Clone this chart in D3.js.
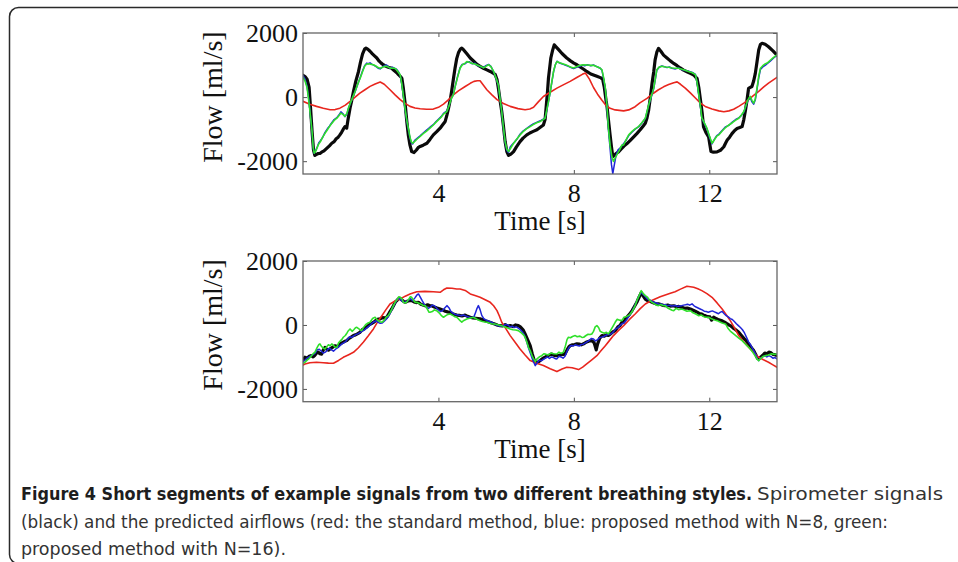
<!DOCTYPE html>
<html>
<head>
<meta charset="utf-8">
<script src="https://cdn.jsdelivr.net/npm/d3@7"></script>
<style>
  html, body { margin: 0; padding: 0; background: #fff; }
  svg { display: block; }
  .tick text { font-family: "Liberation Serif", "Times New Roman", serif; font-size: 26px; fill: #111; }
  .axis-title { font-family: "Liberation Serif", "Times New Roman", serif; font-size: 27px; fill: #111; }
  .caption { font-family: "Liberation Sans Narrow", "DejaVu Sans Condensed", "Liberation Sans", sans-serif; font-size: 17px; }
</style>
</head>
<body>
<svg id="chart" width="958" height="562"></svg>
<script>
'use strict';

// x ticks / y ticks shared by both panels
var timeTicks = [4, 8, 12];
var flowTicks = [-2000, 0, 2000];

// ---- panel 1 (top): [time s, flow ml/s]
var topSpirometer = [[0,680],[0.06,640],[0.12,560],[0.18,300],[0.22,-300],[0.27,-1100],[0.31,-1650],[0.35,-1820],[0.40,-1790],[0.45,-1760],[0.50,-1760],[0.55,-1720],[0.62,-1680],[0.70,-1600],[0.78,-1520],[0.85,-1440],[0.92,-1390],[0.98,-1300],[1.04,-1250],[1.09,-1180],[1.14,-1100],[1.19,-1000],[1.24,-920],[1.29,-970],[1.33,-700],[1.39,-340],[1.44,-100],[1.49,170],[1.56,500],[1.64,800],[1.70,1100],[1.76,1350],[1.82,1500],[1.86,1530],[1.92,1490],[1.98,1430],[2.05,1350],[2.12,1280],[2.18,1220],[2.25,1120],[2.31,1060],[2.37,1010],[2.45,960],[2.52,930],[2.62,900],[2.70,820],[2.77,760],[2.82,700],[2.88,640],[2.92,590],[2.96,300],[3.02,-240],[3.07,-800],[3.11,-1180],[3.16,-1500],[3.21,-1700],[3.28,-1730],[3.35,-1650],[3.40,-1580],[3.46,-1540],[3.55,-1500],[3.66,-1440],[3.75,-1320],[3.85,-1180],[3.95,-1080],[4.05,-970],[4.12,-870],[4.20,-760],[4.25,-560],[4.30,-340],[4.35,-80],[4.39,180],[4.44,550],[4.49,900],[4.54,1200],[4.59,1380],[4.65,1500],[4.69,1530],[4.74,1480],[4.84,1350],[4.94,1220],[5.05,1110],[5.13,1030],[5.23,960],[5.33,900],[5.43,850],[5.53,800],[5.60,760],[5.68,700],[5.73,550],[5.77,280],[5.82,-100],[5.87,-450],[5.92,-900],[5.97,-1390],[6.02,-1700],[6.07,-1820],[6.14,-1780],[6.22,-1700],[6.30,-1560],[6.41,-1390],[6.50,-1280],[6.61,-1180],[6.70,-1120],[6.80,-1070],[6.91,-1020],[7.00,-950],[7.10,-870],[7.15,-700],[7.18,-340],[7.22,150],[7.25,590],[7.29,950],[7.32,1220],[7.37,1450],[7.42,1630],[7.48,1560],[7.55,1480],[7.65,1360],[7.79,1220],[7.90,1130],[8.00,1060],[8.09,1010],[8.20,930],[8.30,860],[8.38,800],[8.50,720],[8.60,680],[8.68,650],[8.80,600],[8.85,560],[8.90,300],[8.95,-100],[8.98,-300],[9.02,-700],[9.07,-1180],[9.11,-1550],[9.15,-1860],[9.19,-1820],[9.25,-1760],[9.32,-1710],[9.40,-1620],[9.48,-1530],[9.57,-1450],[9.66,-1360],[9.76,-1250],[9.86,-1140],[9.96,-1020],[10.05,-900],[10.11,-820],[10.16,-650],[10.21,-400],[10.26,0],[10.31,430],[10.36,800],[10.40,1160],[10.45,1400],[10.50,1520],[10.57,1430],[10.65,1310],[10.75,1220],[10.85,1130],[10.95,1050],[11.05,980],[11.14,910],[11.24,840],[11.34,790],[11.44,740],[11.54,690],[11.60,620],[11.64,580],[11.69,300],[11.74,-100],[11.79,-500],[11.83,-930],[11.90,-1100],[11.98,-1240],[12.02,-1500],[12.05,-1700],[12.12,-1720],[12.23,-1710],[12.33,-1660],[12.43,-1550],[12.48,-1440],[12.53,-1340],[12.60,-1250],[12.67,-1140],[12.75,-1040],[12.82,-980],[12.90,-950],[12.97,-920],[13.02,-700],[13.07,-400],[13.12,-50],[13.16,270],[13.21,300],[13.26,330],[13.31,500],[13.36,740],[13.41,1100],[13.46,1470],[13.51,1640],[13.56,1680],[13.65,1650],[13.75,1570],[13.88,1440],[14.0,1310]];

var topStandard = [[0,-130],[0.2,-220],[0.4,-290],[0.6,-350],[0.8,-395],[0.95,-390],[1.09,-345],[1.25,-250],[1.39,-135],[1.54,0],[1.68,125],[1.83,230],[1.98,335],[2.13,410],[2.28,470],[2.40,400],[2.50,300],[2.57,230],[2.72,70],[2.87,-80],[3.02,-200],[3.16,-290],[3.31,-340],[3.46,-365],[3.65,-380],[3.85,-375],[4.0,-320],[4.15,-220],[4.30,-80],[4.44,70],[4.60,200],[4.79,330],[4.94,430],[5.05,490],[5.15,510],[5.23,510],[5.33,370],[5.43,230],[5.58,70],[5.73,-80],[5.92,-200],[6.12,-290],[6.35,-360],[6.56,-395],[6.70,-370],[6.81,-320],[6.95,-150],[7.10,20],[7.30,150],[7.50,280],[7.70,390],[7.89,490],[8.10,620],[8.25,710],[8.34,750],[8.46,560],[8.58,300],[8.70,90],[8.83,-100],[8.95,-260],[9.07,-350],[9.22,-400],[9.47,-430],[9.62,-400],[9.81,-300],[9.95,-180],[10.16,-40],[10.35,120],[10.50,229],[10.65,320],[10.80,390],[10.95,450],[11.05,475],[11.15,400],[11.29,280],[11.44,130],[11.59,-30],[11.74,-190],[11.88,-290],[12.08,-370],[12.28,-430],[12.43,-455],[12.58,-430],[12.72,-380],[12.87,-290],[13.02,-190],[13.16,-80],[13.31,50],[13.46,180],[13.61,320],[13.75,438],[13.88,530],[14.0,615]];

var topN8 = [[0,680],[0.06,560],[0.12,330],[0.18,-150],[0.23,-700],[0.27,-1150],[0.30,-1580],[0.33,-1760],[0.38,-1650],[0.42,-1560],[0.47,-1420],[0.52,-1350],[0.58,-1260],[0.65,-1100],[0.72,-990],[0.78,-910],[0.85,-800],[0.92,-700],[1.0,-640],[1.06,-560],[1.12,-460],[1.18,-520],[1.24,-610],[1.30,-520],[1.34,-360],[1.40,-190],[1.47,-10],[1.54,170],[1.62,410],[1.70,640],[1.76,820],[1.82,980],[1.88,1060],[1.93,1040],[1.98,1070],[2.04,1020],[2.10,990],[2.16,950],[2.22,900],[2.28,880],[2.35,940],[2.42,990],[2.47,1000],[2.52,940],[2.58,900],[2.64,930],[2.70,900],[2.76,870],[2.82,790],[2.87,690],[2.92,380],[2.96,60],[3.02,-420],[3.07,-780],[3.11,-1000],[3.16,-1280],[3.20,-1420],[3.24,-1460],[3.30,-1350],[3.38,-1280],[3.46,-1210],[3.55,-1120],[3.65,-1030],[3.75,-940],[3.85,-860],[3.93,-760],[4.0,-690],[4.08,-610],[4.15,-510],[4.25,-430],[4.32,-240],[4.38,-40],[4.44,80],[4.50,360],[4.56,620],[4.64,920],[4.70,1020],[4.79,1040],[4.84,1090],[4.92,1100],[5.00,1040],[5.08,1060],[5.13,1000],[5.20,970],[5.27,940],[5.33,920],[5.40,980],[5.48,1020],[5.55,960],[5.63,790],[5.70,590],[5.77,360],[5.82,-60],[5.87,-470],[5.92,-980],[5.97,-1420],[6.02,-1660],[6.07,-1730],[6.12,-1560],[6.18,-1480],[6.25,-1400],[6.32,-1310],[6.41,-1160],[6.50,-1060],[6.60,-980],[6.71,-900],[6.80,-840],[6.90,-790],[7.01,-740],[7.08,-700],[7.15,-650],[7.20,-420],[7.25,-150],[7.30,140],[7.35,470],[7.40,790],[7.45,1000],[7.50,1120],[7.55,1080],[7.62,1050],[7.69,1020],[7.76,990],[7.84,960],[7.92,920],[7.99,890],[8.08,930],[8.18,960],[8.25,1000],[8.32,980],[8.40,1010],[8.50,980],[8.58,1000],[8.66,960],[8.72,930],[8.78,900],[8.83,840],[8.88,560],[8.93,240],[8.98,-350],[9.02,-1000],[9.07,-1600],[9.11,-2100],[9.15,-2390],[9.19,-2150],[9.24,-1850],[9.30,-1650],[9.37,-1580],[9.42,-1520],[9.48,-1440],[9.55,-1330],[9.62,-1200],[9.72,-1090],[9.81,-1000],[9.91,-930],[10.01,-810],[10.11,-670],[10.16,-460],[10.21,-250],[10.28,-20],[10.36,270],[10.41,580],[10.45,840],[10.52,930],[10.60,970],[10.68,950],[10.75,920],[10.82,940],[10.90,900],[11.00,880],[11.09,910],[11.19,860],[11.29,830],[11.39,810],[11.50,770],[11.59,710],[11.64,440],[11.69,50],[11.74,-320],[11.78,-660],[11.85,-810],[11.93,-990],[12.00,-1230],[12.08,-1460],[12.15,-1320],[12.22,-1200],[12.28,-1160],[12.38,-1040],[12.48,-930],[12.58,-880],[12.68,-780],[12.78,-700],[12.87,-650],[12.95,-570],[13.02,-470],[13.07,-320],[13.12,-160],[13.17,-60],[13.21,-10],[13.26,-150],[13.31,-220],[13.36,-80],[13.41,240],[13.46,600],[13.51,860],[13.58,940],[13.66,1000],[13.71,1040],[13.80,1120],[13.90,1220],[14.0,1300]];

var topN16 = [[0,620],[0.06,500],[0.12,300],[0.18,-200],[0.23,-700],[0.27,-1100],[0.30,-1550],[0.33,-1750],[0.38,-1680],[0.45,-1490],[0.52,-1380],[0.58,-1250],[0.65,-1130],[0.72,-1020],[0.78,-920],[0.85,-820],[0.92,-730],[1.0,-660],[1.06,-580],[1.12,-500],[1.18,-540],[1.24,-600],[1.30,-500],[1.34,-350],[1.40,-180],[1.47,0],[1.54,180],[1.62,420],[1.70,620],[1.76,800],[1.82,960],[1.88,1030],[1.95,1040],[2.02,1020],[2.08,1010],[2.15,970],[2.22,920],[2.28,900],[2.35,930],[2.42,960],[2.47,960],[2.55,920],[2.62,900],[2.68,910],[2.74,880],[2.80,800],[2.87,700],[2.92,400],[2.96,80],[3.02,-400],[3.07,-750],[3.11,-970],[3.16,-1250],[3.20,-1400],[3.24,-1440],[3.30,-1380],[3.38,-1300],[3.46,-1230],[3.55,-1140],[3.65,-1060],[3.75,-970],[3.85,-870],[3.93,-780],[4.0,-710],[4.08,-630],[4.15,-530],[4.25,-450],[4.32,-250],[4.38,-50],[4.44,70],[4.50,350],[4.56,600],[4.64,900],[4.70,1000],[4.79,1060],[4.84,1110],[4.92,1080],[5.00,1050],[5.08,1030],[5.13,1010],[5.20,980],[5.27,950],[5.33,910],[5.40,960],[5.48,1010],[5.55,950],[5.63,800],[5.70,600],[5.77,380],[5.82,-50],[5.87,-450],[5.92,-950],[5.97,-1390],[6.02,-1620],[6.07,-1700],[6.14,-1580],[6.22,-1440],[6.30,-1330],[6.41,-1180],[6.50,-1080],[6.60,-990],[6.71,-920],[6.80,-860],[6.90,-800],[7.01,-760],[7.08,-710],[7.15,-660],[7.20,-400],[7.25,-140],[7.30,150],[7.35,480],[7.40,800],[7.45,1000],[7.50,1110],[7.58,1070],[7.69,1030],[7.80,990],[7.90,940],[7.99,910],[8.08,950],[8.18,990],[8.29,1010],[8.40,1000],[8.50,990],[8.58,990],[8.70,940],[8.78,900],[8.83,850],[8.88,600],[8.93,280],[8.98,-300],[9.02,-970],[9.07,-1500],[9.12,-1850],[9.17,-2010],[9.22,-1900],[9.27,-1800],[9.35,-1650],[9.42,-1500],[9.47,-1490],[9.55,-1320],[9.62,-1180],[9.72,-1070],[9.81,-990],[9.91,-920],[10.01,-800],[10.11,-660],[10.16,-450],[10.21,-240],[10.28,0],[10.36,280],[10.41,600],[10.45,850],[10.52,940],[10.60,960],[10.70,940],[10.80,930],[10.90,910],[11.00,900],[11.09,900],[11.19,870],[11.29,840],[11.39,800],[11.50,760],[11.59,700],[11.64,450],[11.69,70],[11.74,-300],[11.78,-650],[11.85,-800],[11.93,-970],[12.00,-1200],[12.08,-1440],[12.15,-1330],[12.22,-1220],[12.28,-1180],[12.38,-1060],[12.48,-950],[12.58,-870],[12.68,-800],[12.78,-720],[12.87,-660],[12.95,-560],[13.02,-450],[13.07,-300],[13.12,-140],[13.17,-30],[13.21,20],[13.26,-100],[13.31,-190],[13.36,-50],[13.41,280],[13.46,650],[13.51,900],[13.58,980],[13.66,1040],[13.71,1060],[13.80,1150],[13.90,1240],[14.0,1320]];

// ---- panel 2 (bottom)
var botSpirometer = [[0,-1100],[0.06,-1010],[0.12,-1050],[0.18,-980],[0.25,-960],[0.30,-1000],[0.35,-950],[0.40,-880],[0.45,-850],[0.50,-900],[0.55,-910],[0.60,-780],[0.65,-700],[0.70,-760],[0.75,-790],[0.80,-750],[0.87,-700],[0.95,-650],[1.02,-680],[1.09,-600],[1.15,-560],[1.22,-520],[1.29,-490],[1.36,-420],[1.42,-380],[1.49,-330],[1.55,-310],[1.62,-270],[1.68,-230],[1.75,-150],[1.82,-110],[1.88,-70],[1.95,0],[2.02,40],[2.08,80],[2.15,140],[2.22,180],[2.28,190],[2.35,230],[2.42,220],[2.47,240],[2.52,320],[2.57,420],[2.62,500],[2.68,620],[2.73,720],[2.77,760],[2.82,820],[2.87,830],[2.92,780],[2.97,740],[3.02,710],[3.08,740],[3.14,760],[3.21,760],[3.28,720],[3.34,700],[3.41,710],[3.48,650],[3.55,620],[3.61,600],[3.68,630],[3.75,600],[3.80,600],[3.88,560],[3.96,530],[4.05,500],[4.12,470],[4.20,430],[4.27,410],[4.35,390],[4.42,350],[4.48,330],[4.54,310],[4.62,300],[4.70,280],[4.79,310],[4.86,270],[4.94,240],[5.02,220],[5.10,210],[5.17,200],[5.23,190],[5.31,160],[5.38,130],[5.45,110],[5.53,80],[5.60,50],[5.68,20],[5.75,-10],[5.82,-20],[5.90,-30],[5.97,10],[6.05,-40],[6.12,-20],[6.20,-50],[6.28,0],[6.36,-20],[6.42,-60],[6.50,-150],[6.56,-280],[6.63,-450],[6.71,-650],[6.77,-900],[6.83,-1110],[6.90,-1180],[6.96,-1150],[7.03,-1090],[7.10,-1030],[7.15,-1010],[7.22,-960],[7.28,-940],[7.35,-910],[7.42,-950],[7.48,-960],[7.55,-960],[7.62,-930],[7.68,-920],[7.74,-910],[7.80,-780],[7.85,-690],[7.89,-650],[7.96,-620],[8.02,-610],[8.09,-590],[8.16,-600],[8.22,-620],[8.29,-590],[8.36,-540],[8.42,-520],[8.48,-490],[8.54,-500],[8.60,-560],[8.66,-780],[8.70,-600],[8.76,-420],[8.83,-330],[8.90,-350],[8.96,-310],[9.02,-330],[9.08,-280],[9.15,-220],[9.22,-180],[9.30,-60],[9.36,-20],[9.42,80],[9.47,90],[9.52,180],[9.58,260],[9.64,330],[9.72,450],[9.78,560],[9.86,710],[9.92,850],[9.99,1010],[10.05,900],[10.11,810],[10.18,760],[10.25,740],[10.31,710],[10.38,680],[10.44,660],[10.50,660],[10.57,640],[10.64,610],[10.70,600],[10.77,620],[10.85,590],[10.95,600],[11.03,570],[11.10,580],[11.19,550],[11.27,520],[11.35,530],[11.44,500],[11.52,460],[11.60,420],[11.64,400],[11.70,360],[11.78,340],[11.84,300],[11.88,290],[11.95,260],[12.02,250],[12.07,150],[12.13,240],[12.20,200],[12.28,160],[12.38,130],[12.45,90],[12.52,40],[12.58,0],[12.62,-20],[12.70,-90],[12.78,-150],[12.87,-230],[12.95,-330],[13.02,-420],[13.08,-480],[13.12,-540],[13.18,-620],[13.25,-720],[13.31,-800],[13.37,-920],[13.42,-1040],[13.46,-1060],[13.52,-1000],[13.58,-950],[13.64,-880],[13.70,-900],[13.76,-850],[13.81,-860],[13.88,-920],[13.94,-930],[14.0,-960]];

var botStandard = [[0,-1250],[0.06,-1220],[0.2,-1180],[0.40,-1167],[0.60,-1180],[0.75,-1195],[0.90,-1198],[1.05,-1110],[1.19,-1012],[1.35,-930],[1.49,-855],[1.63,-720],[1.78,-542],[1.93,-340],[2.08,-125],[2.20,90],[2.33,290],[2.45,480],[2.57,656],[2.72,750],[2.87,812],[3.02,900],[3.16,969],[3.36,1040],[3.60,1050],[3.85,1040],[4.05,1021],[4.15,1100],[4.25,1156],[4.40,1150],[4.54,1125],[4.64,1125],[4.79,1080],[4.94,969],[5.08,920],[5.23,865],[5.38,790],[5.53,708],[5.63,600],[5.73,448],[5.80,280],[5.87,83],[6.0,-130],[6.12,-333],[6.27,-550],[6.41,-750],[6.56,-940],[6.71,-1115],[6.90,-1200],[7.10,-1271],[7.30,-1370],[7.50,-1458],[7.65,-1380],[7.79,-1323],[7.95,-1340],[8.14,-1396],[8.26,-1320],[8.38,-1219],[8.53,-1090],[8.68,-960],[8.80,-810],[8.93,-647],[9.05,-490],[9.17,-333],[9.32,-170],[9.47,-21],[9.65,180],[9.81,344],[9.96,510],[10.11,656],[10.25,740],[10.40,812],[10.55,880],[10.70,938],[10.85,990],[10.99,1040],[11.15,1120],[11.34,1208],[11.54,1177],[11.66,1130],[11.78,1073],[11.93,980],[12.08,865],[12.23,690],[12.38,500],[12.50,320],[12.62,135],[12.75,-100],[12.87,-333],[13.01,-520],[13.16,-698],[13.31,-860],[13.46,-1012],[13.60,-1090],[13.75,-1167],[13.88,-1250],[14.0,-1323]];

var botN8 = [[0,-1150],[0.06,-1100],[0.12,-1040],[0.18,-1000],[0.24,-960],[0.30,-930],[0.36,-880],[0.42,-780],[0.48,-760],[0.55,-830],[0.60,-880],[0.66,-850],[0.72,-780],[0.78,-720],[0.84,-780],[0.90,-820],[0.96,-760],[1.02,-710],[1.08,-660],[1.14,-600],[1.20,-560],[1.26,-520],[1.32,-440],[1.38,-370],[1.44,-390],[1.50,-340],[1.56,-300],[1.62,-280],[1.68,-240],[1.74,-200],[1.80,-170],[1.86,-110],[1.92,-60],[1.98,-10],[2.04,60],[2.10,100],[2.16,130],[2.22,80],[2.28,50],[2.34,60],[2.40,120],[2.46,180],[2.52,260],[2.58,380],[2.64,520],[2.70,640],[2.76,760],[2.82,840],[2.88,790],[2.94,740],[3.00,700],[3.06,740],[3.12,780],[3.18,820],[3.24,760],[3.30,840],[3.36,930],[3.41,969],[3.46,880],[3.52,760],[3.58,650],[3.64,560],[3.70,520],[3.76,560],[3.82,620],[3.88,600],[3.94,540],[4.00,470],[4.06,420],[4.12,450],[4.18,520],[4.25,604],[4.31,540],[4.37,420],[4.43,370],[4.50,330],[4.56,320],[4.62,300],[4.68,290],[4.74,310],[4.80,280],[4.86,260],[4.92,240],[4.98,230],[5.05,260],[5.10,400],[5.14,520],[5.18,604],[5.23,480],[5.28,300],[5.34,200],[5.40,160],[5.46,130],[5.52,110],[5.58,80],[5.64,40],[5.70,0],[5.76,-20],[5.82,-40],[5.88,-30],[5.94,-10],[6.00,20],[6.06,-10],[6.12,-60],[6.18,-40],[6.24,-80],[6.30,-60],[6.36,-100],[6.42,-150],[6.48,-220],[6.54,-320],[6.60,-500],[6.66,-720],[6.72,-900],[6.78,-1080],[6.86,-1271],[6.92,-1180],[6.98,-1100],[7.04,-1120],[7.10,-1080],[7.16,-1040],[7.22,-1000],[7.28,-1050],[7.34,-1000],[7.40,-1020],[7.46,-1060],[7.50,-1062],[7.56,-980],[7.62,-1000],[7.68,-1040],[7.74,-980],[7.80,-820],[7.86,-700],[7.92,-640],[7.98,-660],[8.04,-620],[8.10,-640],[8.16,-660],[8.22,-610],[8.28,-600],[8.34,-560],[8.40,-520],[8.46,-480],[8.52,-420],[8.58,-440],[8.64,-500],[8.70,-460],[8.76,-400],[8.82,-380],[8.88,-360],[8.94,-330],[9.00,-300],[9.06,-300],[9.12,-260],[9.18,-200],[9.24,-120],[9.30,-80],[9.36,-20],[9.42,40],[9.48,60],[9.54,140],[9.60,230],[9.66,320],[9.72,430],[9.78,560],[9.84,700],[9.90,860],[9.95,950],[9.99,1021],[10.04,960],[10.10,900],[10.16,820],[10.22,780],[10.28,760],[10.34,720],[10.40,700],[10.46,680],[10.52,640],[10.58,660],[10.64,620],[10.70,640],[10.76,600],[10.82,620],[10.88,590],[10.94,600],[11.00,610],[11.06,580],[11.12,590],[11.18,600],[11.24,620],[11.30,630],[11.36,650],[11.42,620],[11.49,660],[11.55,600],[11.61,560],[11.67,530],[11.73,500],[11.79,470],[11.85,430],[11.91,420],[11.97,400],[12.03,420],[12.09,440],[12.15,410],[12.21,380],[12.27,350],[12.33,400],[12.38,420],[12.44,350],[12.50,290],[12.56,250],[12.62,200],[12.68,170],[12.74,110],[12.80,40],[12.86,-20],[12.92,-80],[12.98,-150],[13.04,-250],[13.10,-390],[13.16,-530],[13.22,-620],[13.26,-698],[13.32,-820],[13.38,-950],[13.42,-1060],[13.46,-1115],[13.52,-1040],[13.58,-1000],[13.64,-960],[13.70,-1000],[13.76,-960],[13.82,-990],[13.88,-1040],[13.94,-1020],[14.0,-1062]];

var botN16 = [[0,-1200],[0.06,-1167],[0.12,-1100],[0.18,-1050],[0.24,-980],[0.30,-900],[0.35,-855],[0.42,-700],[0.47,-610],[0.50,-594],[0.55,-680],[0.60,-720],[0.65,-750],[0.70,-680],[0.75,-620],[0.80,-650],[0.85,-594],[0.90,-640],[0.95,-700],[1.0,-698],[1.05,-560],[1.10,-500],[1.15,-450],[1.19,-385],[1.25,-330],[1.30,-250],[1.34,-180],[1.39,-125],[1.45,-200],[1.50,-150],[1.55,-90],[1.59,-73],[1.65,-120],[1.70,-160],[1.73,-177],[1.80,-60],[1.86,20],[1.92,60],[1.98,83],[2.04,180],[2.08,220],[2.13,240],[2.20,150],[2.27,100],[2.33,83],[2.40,150],[2.46,250],[2.52,290],[2.58,400],[2.65,560],[2.72,708],[2.78,800],[2.83,880],[2.87,865],[2.92,820],[2.97,700],[3.02,690],[3.06,708],[3.12,800],[3.17,880],[3.21,865],[3.27,760],[3.32,700],[3.36,708],[3.42,680],[3.50,640],[3.56,600],[3.61,604],[3.67,500],[3.72,400],[3.75,396],[3.82,420],[3.88,470],[3.95,448],[4.02,380],[4.08,300],[4.15,240],[4.22,290],[4.28,330],[4.35,344],[4.42,300],[4.48,260],[4.54,240],[4.60,180],[4.64,135],[4.69,90],[4.75,140],[4.84,188],[4.92,210],[5.03,240],[5.10,200],[5.17,160],[5.23,135],[5.30,110],[5.37,90],[5.43,83],[5.50,60],[5.57,40],[5.63,31],[5.70,20],[5.78,0],[5.87,-21],[5.95,-60],[6.03,-90],[6.12,-125],[6.20,-150],[6.28,-160],[6.36,-177],[6.45,-250],[6.52,-320],[6.56,-385],[6.62,-560],[6.66,-700],[6.71,-802],[6.78,-1000],[6.86,-1146],[6.92,-1050],[6.99,-990],[7.05,-960],[7.12,-900],[7.18,-920],[7.25,-938],[7.32,-880],[7.40,-900],[7.50,-908],[7.56,-850],[7.62,-890],[7.69,-855],[7.74,-700],[7.80,-450],[7.84,-385],[7.90,-400],[7.96,-360],[8.04,-333],[8.10,-370],[8.18,-350],[8.24,-390],[8.29,-385],[8.36,-330],[8.42,-290],[8.48,-300],[8.53,-281],[8.58,-200],[8.63,-60],[8.68,-21],[8.73,-80],[8.78,-200],[8.83,-229],[8.90,-260],[8.96,-230],[9.02,-281],[9.08,-180],[9.15,-50],[9.22,83],[9.28,180],[9.35,150],[9.42,135],[9.48,240],[9.55,260],[9.62,300],[9.67,344],[9.72,420],[9.77,520],[9.81,604],[9.86,760],[9.92,900],[9.96,1000],[9.99,1073],[10.05,980],[10.11,917],[10.18,860],[10.25,760],[10.31,708],[10.38,660],[10.44,620],[10.50,604],[10.57,640],[10.64,600],[10.70,604],[10.76,540],[10.83,500],[10.90,460],[10.95,448],[11.02,520],[11.09,480],[11.19,500],[11.26,470],[11.34,430],[11.44,448],[11.52,380],[11.60,340],[11.69,290],[11.76,310],[11.84,260],[11.90,240],[11.98,240],[12.05,200],[12.12,170],[12.18,150],[12.23,135],[12.30,100],[12.38,60],[12.48,31],[12.55,-100],[12.62,-190],[12.72,-281],[12.80,-350],[12.88,-420],[12.97,-490],[13.05,-580],[13.13,-660],[13.21,-750],[13.28,-850],[13.35,-960],[13.41,-1060],[13.46,-1115],[13.52,-1050],[13.58,-990],[13.66,-960],[13.75,-940],[13.84,-900],[13.92,-920],[14.0,-908]];

var captionBold = 'Figure 4 Short segments of example signals from two different breathing styles.';
var captionLines = [
  'Spirometer signals',
  '(black) and the predicted airflows (red: the standard method, blue: proposed method with N=8, green:',
  'proposed method with N=16).'
];

var seriesStyles = [
  {key: 'spirometer', color: '#0a0a0a', width: 3.2},
  {key: 'standard', color: '#e8261e', width: 1.6},
  {key: 'n8', color: '#1f24d8', width: 1.5},
  {key: 'n16', color: '#2fe02a', width: 1.6}
];

var panels = [
  {id: 'top', top: 33, bottom: 174, series: {spirometer: topSpirometer, standard: topStandard, n8: topN8, n16: topN16}},
  {id: 'bot', top: 261, bottom: 401.7, series: {spirometer: botSpirometer, standard: botStandard, n8: botN8, n16: botN16}}
];

var left = 303, right = 777;
var svg = d3.select('#chart');

svg.append('rect').attr('width', 958).attr('height', 562).attr('fill', '#fff');

// rounded frame around the figure
svg.append('rect')
  .attr('x', 9.5).attr('y', 7.5)
  .attr('width', 1000).attr('height', 556)
  .attr('rx', 9).attr('ry', 9)
  .attr('fill', 'none')
  .attr('stroke', '#2a2a2a')
  .attr('stroke-width', 1.5);

function fmtFlow (d) {
  return d < 0 ? '-' + Math.abs(d) : String(d);
}

function drawPanel (p) {
  var x = d3.scaleLinear().domain([0, 14]).range([left, right]);
  var y = d3.scaleLinear().domain([-2400, 2000]).range([p.bottom, p.top]);
  var g = svg.append('g').attr('class', 'panel-' + p.id);

  g.append('clipPath').attr('id', 'clip-' + p.id)
    .append('rect')
    .attr('x', left).attr('y', p.top)
    .attr('width', right - left).attr('height', p.bottom - p.top);

  var line = d3.line()
    .x(function (d) { return x(d[0]); })
    .y(function (d) { return y(d[1]); });

  g.append('g').attr('clip-path', 'url(#clip-' + p.id + ')')
    .selectAll('path')
    .data(seriesStyles)
    .enter()
    .append('path')
    .attr('d', function (s) { return line(p.series[s.key]); })
    .attr('fill', 'none')
    .attr('stroke', function (s) { return s.color; })
    .attr('stroke-width', function (s) { return s.width; })
    .attr('stroke-linejoin', 'round')
    .attr('stroke-linecap', 'round');

  var xAxis = d3.axisBottom(x).tickValues(timeTicks).tickSizeInner(-4).tickSizeOuter(0).tickPadding(10);
  var xAxisTop = d3.axisTop(x).tickValues(timeTicks).tickSizeInner(-4).tickSizeOuter(0).tickFormat('');
  var yAxis = d3.axisLeft(y).tickValues(flowTicks).tickSizeInner(-4).tickSizeOuter(0).tickPadding(5).tickFormat(fmtFlow);
  var yAxisRight = d3.axisRight(y).tickValues(flowTicks).tickSizeInner(-4).tickSizeOuter(0).tickFormat('');

  g.append('g').attr('transform', 'translate(0,' + p.bottom + ')').call(xAxis);
  g.append('g').attr('transform', 'translate(0,' + p.top + ')').call(xAxisTop);
  g.append('g').attr('transform', 'translate(' + left + ',0)').call(yAxis);
  g.append('g').attr('transform', 'translate(' + right + ',0)').call(yAxisRight);

  g.selectAll('.domain').remove();
  g.selectAll('.tick line').attr('stroke', '#555').attr('stroke-width', 1);
  g.selectAll('.tick text').attr('font-family', null).attr('font-size', null);

  g.append('rect')
    .attr('x', left).attr('y', p.top)
    .attr('width', right - left).attr('height', p.bottom - p.top)
    .attr('fill', 'none')
    .attr('stroke', '#666')
    .attr('stroke-width', 1.3);

  g.append('text')
    .attr('class', 'axis-title')
    .attr('x', (left + right) / 2)
    .attr('y', p.bottom + 56)
    .attr('text-anchor', 'middle')
    .text('Time [s]');

  g.append('text')
    .attr('class', 'axis-title')
    .attr('transform', 'translate(222,' + ((y(2000) + y(-2000)) / 2) + ') rotate(-90)')
    .attr('text-anchor', 'middle')
    .style('font-size', '28px')
    .text('Flow [ml/s]');
}

panels.forEach(drawPanel);

// caption
svg.append('text')
  .attr('class', 'caption')
  .attr('x', 21).attr('y', 500)
  .attr('font-weight', 'bold')
  .attr('fill', '#1e1e1e')
  .attr('textLength', 731)
  .attr('lengthAdjust', 'spacingAndGlyphs')
  .text(captionBold);

var captionPos = [
  {x: 757, y: 500, w: 186},
  {x: 21, y: 528, w: 867},
  {x: 21, y: 555, w: 265}
];

svg.selectAll('text.caption-line')
  .data(captionLines)
  .enter()
  .append('text')
  .attr('class', 'caption caption-line')
  .attr('x', function (d, i) { return captionPos[i].x; })
  .attr('y', function (d, i) { return captionPos[i].y; })
  .attr('fill', '#333')
  .attr('textLength', function (d, i) { return captionPos[i].w; })
  .attr('lengthAdjust', 'spacingAndGlyphs')
  .text(function (d) { return d; });
</script>
</body>
</html>
